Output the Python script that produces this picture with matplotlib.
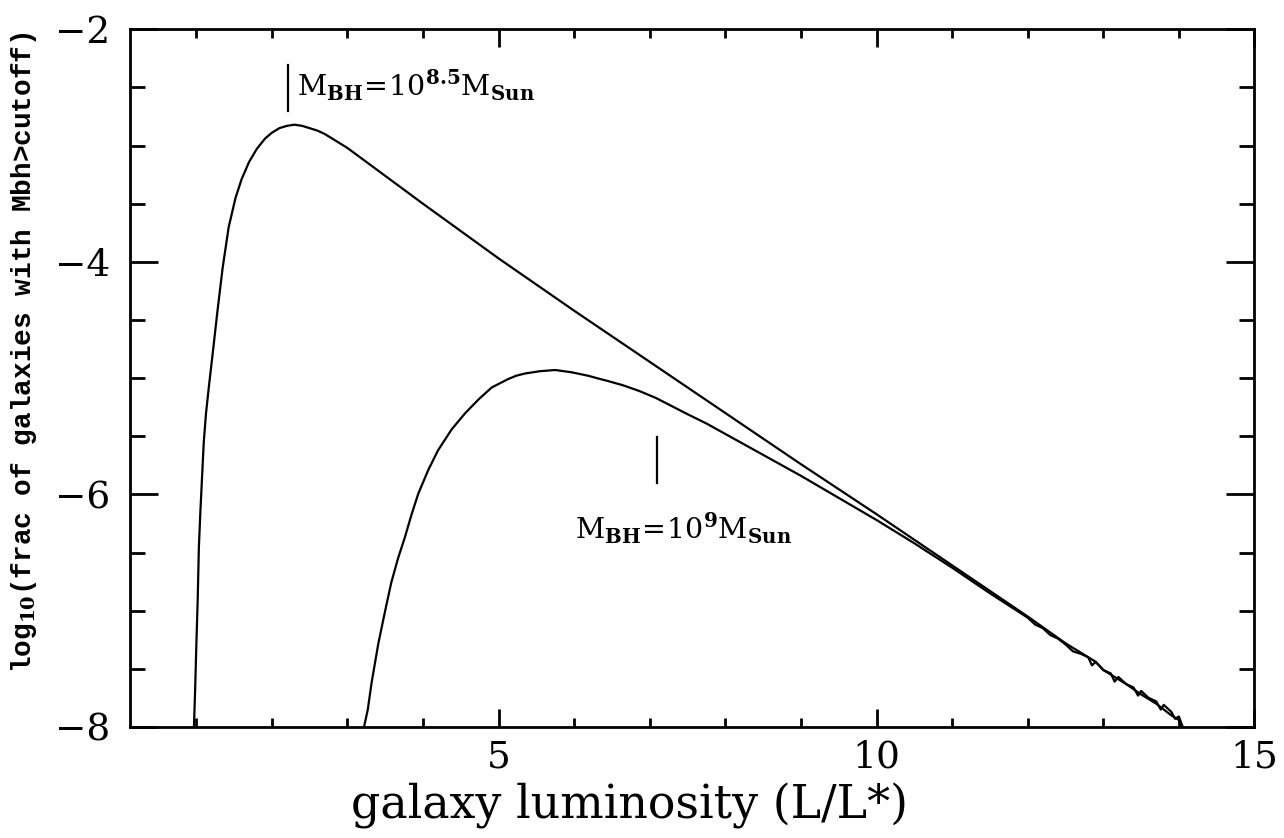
import matplotlib.pyplot as plt
from matplotlib.ticker import MultipleLocator

plt.rcParams['font.family'] = 'DejaVu Serif'
plt.rcParams['mathtext.fontset'] = 'custom'
plt.rcParams['mathtext.rm'] = 'DejaVu Serif'
plt.rcParams['mathtext.bf'] = 'DejaVu Serif:bold'

# curva M_BH = 10^8.5 M_Sun
lum_85 = [0.97, 0.985, 1.00, 1.02, 1.035, 1.055, 1.07, 1.10, 1.13, 1.17, 1.23,
          1.28, 1.35, 1.43, 1.52, 1.60, 1.70, 1.80, 1.91, 2.00, 2.10, 2.20,
          2.30, 2.40, 2.50, 2.60, 2.70, 2.85, 3.0, 3.5, 4.0, 5.0, 6.0, 7.0,
          8.0, 9.0, 10.0, 11.0, 12.0, 12.5, 12.9, 13.0, 13.3, 13.5, 13.7,
          13.9, 14.0, 14.05]
frac_85 = [-8.0, -7.7, -7.34, -6.9, -6.46, -6.15, -5.95, -5.55, -5.30, -5.06,
           -4.72, -4.43, -4.05, -3.70, -3.45, -3.29, -3.14, -3.03, -2.94,
           -2.89, -2.85, -2.83, -2.82, -2.83, -2.85, -2.87, -2.90, -2.96,
           -3.02, -3.26, -3.50, -3.97, -4.42, -4.86, -5.30, -5.74, -6.17,
           -6.61, -7.05, -7.28, -7.44, -7.51, -7.63, -7.72, -7.80, -7.90,
           -7.94, -8.0]

# curva M_BH = 10^9 M_Sun
lum_9 = [3.22, 3.27, 3.32, 3.41, 3.50, 3.58, 3.67, 3.76, 3.85, 3.94, 4.07,
         4.20, 4.38, 4.56, 4.74, 4.91, 5.0, 5.12, 5.23, 5.35, 5.45, 5.55,
         5.65, 5.75, 5.86, 5.97, 6.08, 6.19, 6.30, 6.42, 6.53, 6.64, 6.75,
         6.86, 6.97, 7.08, 7.29, 7.5, 7.75, 8.0, 8.5, 9.0, 9.5, 10.0, 10.5,
         11.0, 11.5, 12.0, 12.1, 12.2, 12.3, 12.4, 12.5, 12.6, 12.7, 12.8,
         12.85, 12.9, 13.0, 13.1, 13.15, 13.2, 13.3, 13.4, 13.46, 13.5, 13.6,
         13.7, 13.76, 13.8, 13.9, 13.95, 14.0, 14.05]
frac_9 = [-8.0, -7.85, -7.62, -7.28, -7.0, -6.76, -6.55, -6.37, -6.17, -5.99,
          -5.79, -5.62, -5.44, -5.30, -5.18, -5.08, -5.05, -5.01, -4.98,
          -4.96, -4.95, -4.94, -4.935, -4.93, -4.94, -4.95, -4.965, -4.98,
          -5.00, -5.02, -5.04, -5.06, -5.085, -5.11, -5.14, -5.17, -5.24,
          -5.31, -5.39, -5.48, -5.66, -5.84, -6.03, -6.22, -6.42, -6.63,
          -6.85, -7.06, -7.12, -7.15, -7.21, -7.24, -7.29, -7.35, -7.37,
          -7.40, -7.47, -7.44, -7.51, -7.54, -7.61, -7.57, -7.63, -7.66,
          -7.73, -7.69, -7.75, -7.78, -7.85, -7.81, -7.87, -7.93, -7.91, -8.0]

rotulos = [r'$\mathrm{M}_{\mathbf{BH}}\!=\!10^{\mathbf{8.5}}\mathrm{M}_{\mathbf{Sun}}$',
           r'$\mathrm{M}_{\mathbf{BH}}\!=\!10^{\mathbf{9}}\mathrm{M}_{\mathbf{Sun}}$']
marca_x = [2.21, 7.10]
marca_y = [(-2.31, -2.70), (-5.51, -5.90)]
texto_xy = [(2.33, -2.48), (6.01, -6.29)]

fig = plt.figure(figsize=(12.84, 8.38), dpi=100)
ax = fig.add_axes([0.101, 0.1325, 0.876, 0.8325])

ax.plot(lum_85, frac_85, color='black', lw=1.6)
ax.plot(lum_9, frac_9, color='black', lw=1.6)

for mx, (y0, y1), (tx, ty), rot in zip(marca_x, marca_y, texto_xy, rotulos):
    ax.plot([mx, mx], [y0, y1], color='black', lw=1.6)
    ax.text(tx, ty, rot, fontsize=20.5, ha='left', va='center')

ax.set_xlim(0.12, 15.0)
ax.set_ylim(-8, -2)
ax.xaxis.set_major_locator(MultipleLocator(5))
ax.xaxis.set_minor_locator(MultipleLocator(1))
ax.yaxis.set_major_locator(MultipleLocator(2))
ax.yaxis.set_minor_locator(MultipleLocator(0.5))
ax.tick_params(axis='both', which='both', direction='in', top=True, right=True,
               width=2, labelsize=27)
ax.tick_params(axis='x', which='major', length=13, pad=9)
ax.tick_params(axis='x', which='minor', length=6.5)
ax.tick_params(axis='y', which='major', length=20, pad=14)
ax.tick_params(axis='y', which='minor', length=11)
for s in ax.spines.values():
    s.set_linewidth(2)

ax.set_xlabel('galaxy luminosity (L/L*)', fontsize=33)
ax.xaxis.set_label_coords(0.444, -0.08)

fig.text(24 / 1284, 1 - 352 / 838,
         r'log$_{\mathbf{10}}$(frac of galaxies with Mbh>cutoff)',
         rotation=90, ha='center', va='center', fontsize=20,
         family='Liberation Mono', weight='bold')

fig.savefig('out.png', dpi=100)
plt.close()
